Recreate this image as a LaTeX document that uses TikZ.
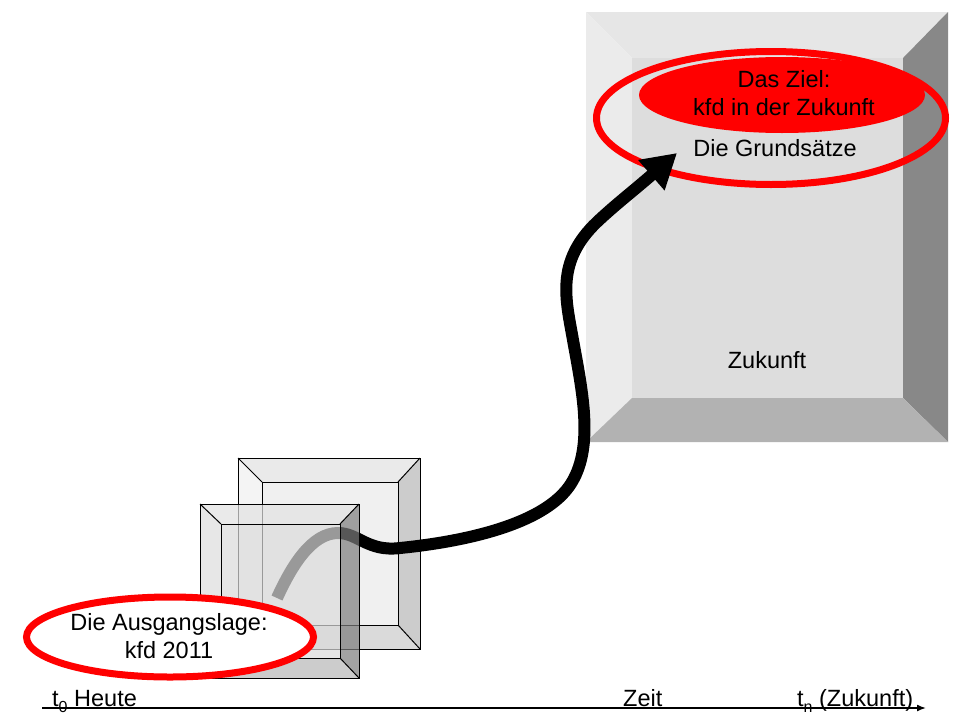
\documentclass[tikz,border=0pt]{standalone}
\usepackage{fontspec}
\setmainfont{Liberation Sans}
\usetikzlibrary{arrows.meta}
\definecolor{bigtopc}{HTML}{E6E6E6}
\definecolor{bigleftc}{HTML}{EBEBEB}
\definecolor{bigrightc}{HTML}{888888}
\definecolor{bigbotc}{HTML}{B2B2B2}
\definecolor{bigfacec}{HTML}{DDDDDD}
\definecolor{backtopc}{HTML}{EAEAEA}
\definecolor{backleftc}{HTML}{F4F4F4}
\definecolor{backrightc}{HTML}{CCCCCC}
\definecolor{backbotc}{HTML}{DADADA}
\definecolor{backfacec}{HTML}{F0F0F0}
\definecolor{fronttopc}{HTML}{E2E2E2}
\definecolor{frontleftc}{HTML}{DEDEDE}
\definecolor{frontrightc}{HTML}{7D7D7D}
\definecolor{frontbotc}{HTML}{B7B7B7}
\definecolor{frontfacec}{HTML}{DBDBDB}
\definecolor{kfdred}{HTML}{FF0000}
\newcommand{\bevelbox}[9]{%
  \path[#9top]   (#1,#2) -- (#3,#2) -- (#7,#6) -- (#5,#6) -- cycle;
  \path[#9left]  (#1,#2) -- (#5,#6) -- (#5,#8) -- (#1,#4) -- cycle;
  \path[#9right] (#3,#2) -- (#3,#4) -- (#7,#8) -- (#7,#6) -- cycle;
  \path[#9bot]   (#1,#4) -- (#5,#8) -- (#7,#8) -- (#3,#4) -- cycle;
  \path[#9face]  (#5,#6) rectangle (#7,#8);
}
\newcommand{\bevellines}[8]{%
  \draw[boxline] (#1,#2) rectangle (#3,#4);
  \draw[boxline] (#5,#6) rectangle (#7,#8);
  \draw[boxline] (#1,#2) -- (#5,#6) (#3,#2) -- (#7,#6) (#1,#4) -- (#5,#8) (#3,#4) -- (#7,#8);
}
\newcommand{\lowsub}[1]{\raisebox{-6pt}{\fontsize{16}{16}\selectfont #1}}
\tikzset{
  bigtop/.style={fill=bigtopc}, bigleft/.style={fill=bigleftc},
  bigright/.style={fill=bigrightc}, bigbot/.style={fill=bigbotc},
  bigface/.style={fill=bigfacec},
  backtop/.style={fill=backtopc}, backleft/.style={fill=backleftc},
  backright/.style={fill=backrightc}, backbot/.style={fill=backbotc},
  backface/.style={fill=backfacec},
  fronttop/.style={fill=fronttopc, fill opacity=0.7}, frontleft/.style={fill=frontleftc, fill opacity=0.7},
  frontright/.style={fill=frontrightc, fill opacity=0.7}, frontbot/.style={fill=frontbotc, fill opacity=0.7},
  frontface/.style={fill=frontfacec, fill opacity=0.7},
  boxline/.style={draw=black, line width=1pt},
  txt/.style={font=\fontsize{23.5}{28}\selectfont, align=center, inner sep=0pt},
  ring/.style={draw=kfdred, line width=7pt},
  pathway/.style={line width=12pt, draw=black},
  axis/.style={line width=1.5pt, -{Latex[length=9pt,width=7pt]}},
}
\begin{document}
\begin{tikzpicture}[x=1pt,y=-1pt]
\useasboundingbox (0,0) rectangle (960,720);
\fill[white] (0,0) rectangle (960,720);
% big box (Zukunft)
\bevelbox{586}{12}{948}{442}{632}{58}{903}{398}{big}
% goal ellipses
\fill[kfdred] (782,95) ellipse [x radius=143, y radius=38];
\draw[ring] (771,118) ellipse [x radius=174.5, y radius=66.5];
\node[txt] (ziel) at (784,93) {Das Ziel:\\kfd in der Zukunft};
\node[txt] (grund) at (775,148) {Die Grundsätze};
\node[txt] (zuk) at (767,360) {Zukunft};
% back small box
\bevelbox{238}{458}{420}{649}{262}{482}{398}{625}{back}
\bevellines{238}{458}{420}{649}{262}{482}{398}{625}
% pathway arrow
\coordinate (start) at (277,598);
\coordinate (goal) at (677,153);
\draw[pathway, -{Triangle[length=34pt,width=38pt]}] (start)
  .. controls (292,565) and (312,533) .. (338,533)
  .. controls (358,533) and (368,552) .. (400,548)
  .. controls (450,543) and (545,528) .. (572,482)
  .. controls (594,445) and (582,390) .. (573,340)
  .. controls (566,300) and (555,262) .. (597,222)
  .. controls (615,205) and (632,192) .. (goal);
% front small box (translucent)
\bevelbox{200}{504}{359}{678}{221}{524}{340}{658}{front}
\bevellines{200}{504}{359}{678}{221}{524}{340}{658}
% starting ellipse
\draw[ring, fill=white] (170,637) ellipse [x radius=143.5, y radius=40];
\node[txt] (ausg) at (169,636) {Die Ausgangslage:\\kfd 2011};
% time axis
\coordinate (ax0) at (42,708);
\coordinate (ax1) at (926,708);
\draw[axis] (ax0) -- (ax1);
\node[txt, anchor=base west] (heute) at (52,706) {t\lowsub{0} Heute};
\node[txt, anchor=base west] (zeit) at (623,706) {Zeit};
\node[txt, anchor=base west] (tn) at (797,706) {t\lowsub{n} (Zukunft)};
\end{tikzpicture}
\end{document}
